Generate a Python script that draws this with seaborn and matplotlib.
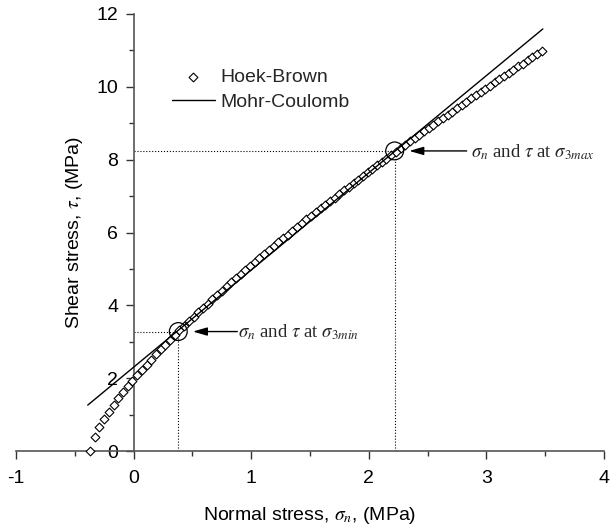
import matplotlib
matplotlib.use("Agg")
import matplotlib.pyplot as plt
from matplotlib.ticker import MultipleLocator
import seaborn as sns

# ---------------- data ----------------
hb_sigma_n = [-0.375, -0.33, -0.29, -0.25, -0.21, -0.17,
              -0.13, -0.09, -0.05, -0.01, 0.03, 0.07, 0.11, 0.15, 0.19, 0.23,
              0.27, 0.31, 0.35, 0.39, 0.43, 0.47, 0.51, 0.55, 0.59, 0.63,
              0.67, 0.71, 0.75, 0.79, 0.83, 0.87, 0.91, 0.95, 0.99, 1.03,
              1.07, 1.11, 1.15, 1.19, 1.23, 1.27, 1.31, 1.35, 1.39, 1.43,
              1.47, 1.51, 1.55, 1.59, 1.63, 1.67, 1.71, 1.75, 1.79, 1.83,
              1.87, 1.91, 1.95, 1.99, 2.03, 2.07, 2.11, 2.15, 2.19, 2.23,
              2.27, 2.31, 2.35, 2.39, 2.43, 2.47, 2.51, 2.55, 2.59, 2.63,
              2.67, 2.71, 2.75, 2.79, 2.83, 2.87, 2.91, 2.95, 2.99, 3.03,
              3.07, 3.11, 3.15, 3.19, 3.23, 3.27, 3.31, 3.35, 3.39, 3.43, 3.47]
hb_tau = [0.0, 0.39, 0.65, 0.87, 1.08, 1.26,
          1.45, 1.62, 1.78, 1.93, 2.08, 2.23, 2.37, 2.51, 2.65, 2.79,
          2.92, 3.05, 3.18, 3.31, 3.44, 3.56, 3.69, 3.81, 3.93, 4.05,
          4.17, 4.29, 4.40, 4.52, 4.63, 4.75, 4.86, 4.97, 5.08, 5.19,
          5.30, 5.41, 5.52, 5.62, 5.73, 5.84, 5.94, 6.05, 6.15, 6.25,
          6.36, 6.46, 6.56, 6.66, 6.76, 6.86, 6.96, 7.06, 7.16, 7.26,
          7.35, 7.45, 7.55, 7.65, 7.74, 7.84, 7.93, 8.03, 8.12, 8.22,
          8.31, 8.41, 8.50, 8.59, 8.68, 8.78, 8.87, 8.96, 9.05, 9.14,
          9.23, 9.32, 9.41, 9.50, 9.59, 9.68, 9.77, 9.86, 9.95, 10.03,
          10.12, 10.21, 10.30, 10.39, 10.47, 10.56, 10.64, 10.73, 10.82, 10.90, 10.99]
mc_sigma_n = [-0.39, 3.48]
mc_tau = [1.26, 11.59]
pt_sigma_n = [0.38, 2.22]
pt_tau = [3.28, 8.24]
pt_labels = [r"$\sigma_n$ and $\tau$ at $\sigma_{3min}$",
             r"$\sigma_n$ and $\tau$ at $\sigma_{3max}$"]
series_labels = ["Hoek-Brown", "Mohr-Coulomb"]
x_ticks = [-1, 0, 1, 2, 3, 4]
y_ticks = [0, 2, 4, 6, 8, 10, 12]
x_label = r"Normal stress, $\sigma_n$, (MPa)"
y_label = r"Shear stress, $\tau$, (MPa)"

# ---------------- style ----------------
sns.set_theme(style="ticks")
plt.rcParams["font.family"] = ["Liberation Sans", "DejaVu Sans"]
plt.rcParams["mathtext.fontset"] = "stix"

fig = plt.figure(figsize=(6.1, 5.31), dpi=100)
ax = fig.add_axes([16 / 610, 1 - 451 / 531, 588 / 610, 437 / 531])

sns.scatterplot(x=hb_sigma_n, y=hb_tau, marker="D", s=20, color="white",
                edgecolor="black", linewidth=0.8, label=series_labels[0],
                ax=ax, clip_on=False, zorder=3, legend=False)
sns.lineplot(x=mc_sigma_n, y=mc_tau, color="black", linewidth=1.0,
             label=series_labels[1], ax=ax, legend=False, zorder=4)

# guide lines, circles, arrows and notes
for x, y in zip(pt_sigma_n, pt_tau):
    ax.plot([0, x], [y, y], linestyle=":", color="black", linewidth=0.8, zorder=2)
    ax.plot([x, x], [0, y], linestyle=":", color="black", linewidth=0.8, zorder=2)
sns.scatterplot(x=pt_sigma_n, y=pt_tau, marker="o", s=165, color="none",
                edgecolor="black", linewidth=0.9, ax=ax, legend=False, zorder=5)

arrow_tail_px = [59, 72]
text_dx_px = [60, 76]
for x, y, lab, tail, tdx in zip(pt_sigma_n, pt_tau, pt_labels, arrow_tail_px, text_dx_px):
    ax.annotate("", xy=(x, y), xycoords="data", xytext=(tail, 0),
                textcoords="offset pixels",
                arrowprops=dict(arrowstyle="-|>,head_length=0.86,head_width=0.25",
                                color="black", lw=1.0, shrinkA=0, shrinkB=10.5,
                                mutation_scale=10))
    ax.annotate(lab, xy=(x, y), xycoords="data", xytext=(tdx, -6),
                textcoords="offset pixels", ha="left", va="baseline",
                fontsize=13.5, fontfamily="Liberation Serif", annotation_clip=False)

# axes styling
ax.set_xlim(-1, 4)
ax.set_ylim(0, 12)
ax.spines["left"].set_position(("data", 0))
ax.spines[["top", "right"]].set_visible(False)
for sp in ["left", "bottom"]:
    ax.spines[sp].set_color("#555555")
    ax.spines[sp].set_linewidth(1.2)
ax.set_xticks(x_ticks)
ax.set_yticks(y_ticks)
ax.set_xticklabels([str(v) for v in x_ticks])
ax.set_yticklabels([str(v) for v in y_ticks])
ax.xaxis.set_minor_locator(MultipleLocator(0.5))
ax.yaxis.set_minor_locator(MultipleLocator(1))
ax.tick_params(axis="x", which="major", pad=8)
ax.tick_params(which="major", direction="out", length=6, width=1.0,
               color="#333333", labelsize=14, labelcolor="black")
ax.tick_params(axis="y", which="major", pad=5)
ax.tick_params(which="minor", direction="out", length=3.5, width=1.0, color="#333333")

ax.set_xlabel(x_label, fontsize=14, labelpad=13, color="black")
ax.set_ylabel(y_label, fontsize=14, labelpad=8, color="black")

ax.legend(frameon=False, loc="upper left", bbox_to_anchor=(0.265, 0.876),
          borderaxespad=0, borderpad=0, handlelength=2.2, handletextpad=0.3,
          labelspacing=0.4, fontsize=14, scatterpoints=1)

fig.savefig("out.png", dpi=100)
